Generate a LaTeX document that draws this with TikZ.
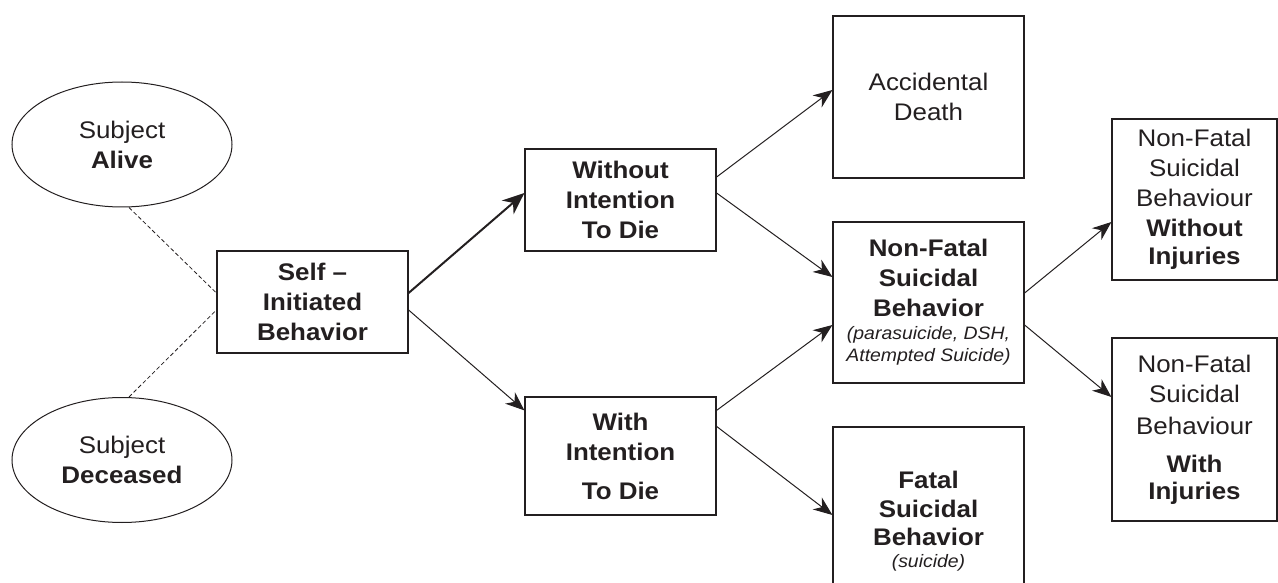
\documentclass[tikz,border=0pt]{standalone}
\usepackage{fontspec}
\setmainfont{Liberation Sans}[FakeStretch=1.08]
\usetikzlibrary{arrows.meta,shapes.geometric}
\definecolor{ink}{HTML}{231F20}
\begin{document}
\begin{tikzpicture}[x=1pt,y=-1pt,
  every node/.style={text=ink},
  boxnode/.style={draw=ink,line width=1.2pt,rectangle,inner sep=0pt,align=center,
    font=\fontsize{24}{30}\selectfont},
  ellnode/.style={draw=ink,line width=1pt,ellipse,inner sep=0pt,align=center,
    minimum width=220pt,minimum height=125pt,font=\fontsize{24}{30}\selectfont},
  arr/.style={draw=ink,line width=1pt,-{Stealth[length=19pt,width=15pt,inset=6pt]}},
  thickarr/.style={draw=ink,line width=2pt,-{Stealth[length=22pt,width=18pt,inset=7pt]}},
  dashline/.style={draw=ink,line width=0.8pt,dash pattern=on 4pt off 2.5pt}
]
\useasboundingbox (0,0) rectangle (1278,583);

\node[ellnode] (alive) at (122,144.5) {Subject\\\textbf{Alive}};
\node[ellnode] (deceased) at (122,460) {Subject\\\textbf{Deceased}};

\node[boxnode,minimum width=191pt,minimum height=102pt] (self) at (312.5,302)
  {\textbf{Self –}\\\textbf{Initiated}\\\textbf{Behavior}};
\node[boxnode,minimum width=191pt,minimum height=102pt] (without) at (620.5,200)
  {\textbf{Without}\\\textbf{Intention}\\\textbf{To Die}};
\node[boxnode,minimum width=191pt,minimum height=118pt] (with) at (620.5,456)
  {\textbf{With}\\\textbf{Intention}\\[9pt]\textbf{To Die}};

\node[boxnode,minimum width=191pt,minimum height=162pt] (acc) at (928.5,97)
  {Accidental\\Death};
\node[boxnode,minimum width=191pt,minimum height=161pt] (nonfatal) at (928.5,302.5)
  {\textbf{Non-Fatal}\\\textbf{Suicidal}\\\textbf{Behavior}\\[-7pt]
   {\fontsize{18}{22}\selectfont\itshape (parasuicide, DSH,}\\[-8pt]
   {\fontsize{18}{22}\selectfont\itshape Attempted Suicide)}};
\node[boxnode,minimum width=191pt,minimum height=188pt] (fatal) at (928.5,521)
  {\textbf{Fatal}\\[-1pt]\textbf{Suicidal}\\[-2pt]\textbf{Behavior}\\[-8pt]
   {\fontsize{18}{22}\selectfont\itshape (suicide)}};

\node[boxnode,minimum width=165pt,minimum height=161pt] (nfw) at (1194.5,199.5)
  {Non-Fatal\\Suicidal\\Behaviour\\\textbf{Without}\\[-2pt]\textbf{Injuries}};
\node[boxnode,minimum width=165pt,minimum height=183pt] (nfwi) at (1194.5,429.5)
  {Non-Fatal\\Suicidal\\[2pt]Behaviour\\[8pt]\textbf{With}\\[-3pt]\textbf{Injuries}};

\draw[dashline] ([xshift=7pt]alive.south) -- ([yshift=9pt]self.west);
\draw[dashline] ([xshift=7pt]deceased.north) -- ([yshift=-8pt]self.west);

\draw[thickarr] ([yshift=9pt]self.east) -- ([yshift=7pt]without.west);
\draw[arr] ([yshift=-8pt]self.east) -- ([yshift=-14pt]with.north west);

\draw[arr] ([yshift=23pt]without.east) -- ([yshift=7pt]acc.west);
\draw[arr] ([yshift=7pt]without.east) -- ([yshift=25.5pt]nonfatal.west);
\draw[arr] ([yshift=-14pt]with.north east) -- ([yshift=-22.5pt]nonfatal.west);
\draw[arr] ([yshift=-30pt]with.north east) -- ([yshift=6pt]fatal.west);

\draw[arr] ([yshift=9.5pt]nonfatal.east) -- ([yshift=-22.5pt]nfw.west);
\draw[arr] ([yshift=-22.5pt]nonfatal.east) -- ([yshift=32.5pt]nfwi.west);
\end{tikzpicture}
\end{document}
